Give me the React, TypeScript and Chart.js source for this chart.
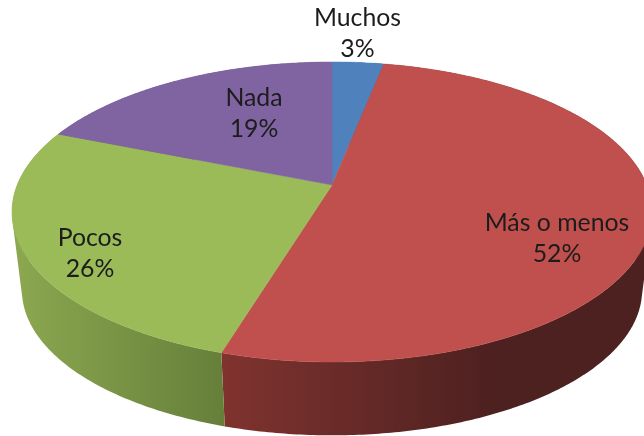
import React, { useEffect, useRef } from "react";
import { Chart, registerables } from "chart.js";

Chart.register(...registerables);

const categories = ["Muchos", "Más o menos", "Pocos", "Nada"];
const shares = [3.1, 51.6, 26.4, 18.9];
const sliceColors = ["#4f81bd", "#c0504d", "#9bbb59", "#8064a2"];
const wallStops = [
  ["#3d6390", "#2f4d70"],
  ["#80332f", "#4d2120"],
  ["#8ca850", "#66803a"],
  ["#5f4a78", "#4a3a60"],
];
const labelSpots = [
  [357.5, 18],
  [557, 223],
  [90, 238],
  [254, 98],
];

// projection of the flat pie into the tilted perspective view
const apexX = 332, apexY = 185, scaleU = 314.8, scaleV = 145.14, persp = -0.18;
const ellipseMidY = 212, wallShrink = 0.969, wallDrop = 78;

const project = (theta: number) => {
  const u = Math.cos(theta), v = Math.sin(theta);
  const w = 1 + persp * v;
  return [apexX + (scaleU * u) / w, apexY + (scaleV * v) / w];
};
const lower = (p: number[]) => [
  apexX + (p[0] - apexX) * wallShrink,
  ellipseMidY + (p[1] - ellipseMidY) * wallShrink + wallDrop,
];
const arcPoints = (a: number, b: number) => {
  const n = Math.max(4, Math.ceil(Math.abs(b - a) * 90));
  const pts: number[][] = [];
  for (let i = 0; i <= n; i++) pts.push(project(a + ((b - a) * i) / n));
  return pts;
};

const pie3d = {
  id: "pie3d",
  beforeDatasetsDraw(chart: any) {
    const { ctx } = chart;
    const arcs = chart.getDatasetMeta(0).data;
    const colors = chart.data.datasets[0].backgroundColor;
    const order = arcs.map((_: any, i: number) => i);
    const addPoly = (pts: number[][]) => {
      pts.forEach((p, i) => (i ? ctx.lineTo(p[0], p[1]) : ctx.moveTo(p[0], p[1])));
      ctx.closePath();
    };
    const area = (q: number[][]) =>
      q.reduce((s, p, i) => {
        const r = q[(i + 1) % q.length];
        return s + p[0] * r[1] - r[0] * p[1];
      }, 0);
    ctx.save();
    // walls, behind the top face
    order.forEach((i: number) => {
      const pts = arcPoints(arcs[i].startAngle, arcs[i].endAngle);
      const xs = pts.map((p) => p[0]);
      const x0 = Math.min(...xs), x1 = Math.max(...xs);
      const grad = i === 1 ? ctx.createLinearGradient(221, 0, 490, 0) : ctx.createLinearGradient(x0, 0, x1, 0);
      grad.addColorStop(0, wallStops[i][0]);
      grad.addColorStop(1, wallStops[i][1]);
      ctx.fillStyle = grad;
      ctx.beginPath();
      for (let k = 0; k + 1 < pts.length; k++) {
        const quad = [pts[k], pts[k + 1], lower(pts[k + 1]), lower(pts[k])];
        addPoly(area(quad) >= 0 ? quad : quad.reverse());
      }
      ctx.fill("nonzero");
    });
    // top face
    order.forEach((i: number) => {
      const pts = arcPoints(arcs[i].startAngle, arcs[i].endAngle);
      ctx.fillStyle = colors[i];
      ctx.beginPath();
      addPoly([[apexX, apexY], ...pts]);
      ctx.fill();
      ctx.strokeStyle = colors[i];
      ctx.lineWidth = 0.5;
      ctx.stroke();
    });
    ctx.restore();
    return false;
  },
  afterDraw(chart: any) {
    const { ctx } = chart;
    const values = chart.data.datasets[0].data;
    const total = values.reduce((a: number, b: number) => a + b, 0);
    ctx.save();
    ctx.font = "24.8px Lato";
    ctx.fillStyle = "#1c1c1c";
    ctx.textAlign = "center";
    ctx.textBaseline = "middle";
    ctx.filter = "blur(0.35px)";
    chart.data.labels.forEach((name: string, i: number) => {
      const [x, y] = labelSpots[i];
      ctx.fillText(name, x, y);
      ctx.fillText(`${Math.round((values[i] / total) * 100)}%`, x, y + 31);
    });
    ctx.restore();
  },
};

export default function App() {
  const ref = useRef<HTMLCanvasElement>(null);
  useEffect(() => {
    const chart = new Chart(ref.current as HTMLCanvasElement, {
      type: "pie",
      data: {
        labels: categories,
        datasets: [{ data: shares, backgroundColor: sliceColors, borderWidth: 0 }],
      },
      options: {
        animation: false,
        responsive: false,
        plugins: { legend: { display: false }, tooltip: { enabled: false } },
      },
      plugins: [pie3d],
    } as any);
    return () => chart.destroy();
  }, []);
  return (
    <canvas
      ref={ref}
      width={644}
      height={436}
      style={{ position: "fixed", left: 0, top: 0, width: 644, height: 436, background: "#fff" }}
    />
  );
}
